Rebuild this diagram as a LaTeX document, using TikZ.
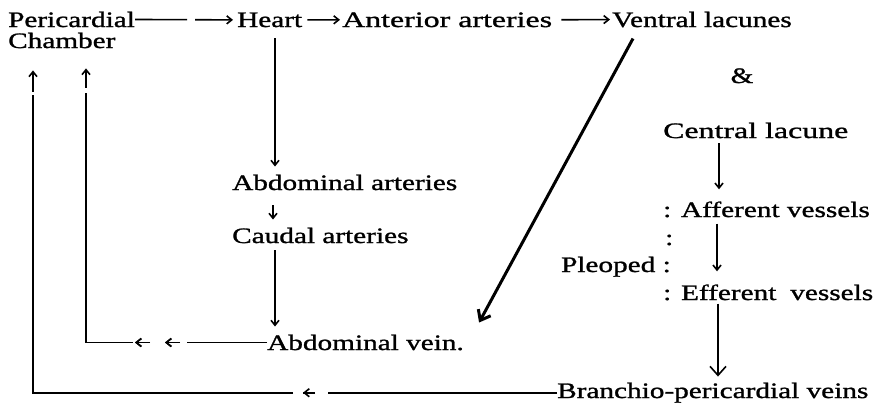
\documentclass[tikz,border=0pt]{standalone}
\usepackage{fontspec}
\setmainfont{Liberation Serif}[FakeStretch=1.33,FakeBold=1.2]
\newfontfamily\widerfont{Liberation Serif}[FakeStretch=1.45,FakeBold=1.2]
\usetikzlibrary{arrows.meta,decorations.markings,calc}
\begin{document}
\begin{tikzpicture}[x=1pt,y=-1pt,
  font=\fontsize{22}{26}\selectfont,
  lbl/.style={inner sep=0pt, anchor=base west},
  ln/.style={line width=1.6pt},
  tip/.style={-{Straight Barb[length=5pt,width=8pt]}},
  ar/.style={ln,tip},
  midtip/.style={postaction={decorate}, decoration={markings, mark=#1}}]
\fill[white] (0,0) rectangle (884,410);
\useasboundingbox (0,0) rectangle (884,410);

% texts
\node[lbl] (peri) at (8,27) {Pericardial};
\node[lbl] (chamber) at (8,48) {Chamber};
\node[lbl] (heart) at (237,27) {Heart};
\node[lbl] (ant) at (342,27) {\widerfont Anterior arteries};
\node[lbl] (ventral) at (612,27) {Ventral lacunes};
\node[inner sep=0pt, anchor=base] (amp) at (742,83) {\&};
\node[lbl] (cl) at (663,138) {\widerfont Central lacune};
\node[lbl] (aart) at (232,190) {Abdominal arteries};
\node[lbl] (cart) at (232,243) {Caudal arteries};
\node[lbl] (aff) at (663,217) {: Afferent vessels};
\node[lbl] (mcol) at (665,245) {:};
\node[inner sep=0pt, anchor=base east] (pleo) at (671,272) {Pleoped :};
\node[lbl] (eff) at (663,300) {: Efferent\hspace{0.3em} vessels};
\node[lbl] (avein) at (267,350) {Abdominal vein.};
\node[lbl] (branch) at (557,398) {Branchio-pericardial veins};

% helper x positions
\coordinate (xL) at (33,0);
\coordinate (xR) at (86,0);
\coordinate (xH) at (275,0);
\coordinate (xA) at (273,0);
\coordinate (xC) at (719,0);
\coordinate (xD) at (717,0);
\coordinate (xE) at (718,0);

% top row
\draw[ar, dash pattern=on 52pt off 8pt on 200pt, shorten >=4pt] (peri.east) -- (heart.west);
\draw[ar, shorten <=5pt, shorten >=2pt] (heart.east) -- (ant.west);
\draw[ar, shorten <=9pt, shorten >=2pt] (ant.east) -- (ventral.west);

% middle column
\draw[ar, shorten <=11pt, shorten >=8pt] (heart.south -| xH) -- (aart.north -| xH);
\draw[ar, shorten <=15pt, shorten >=8pt] (aart.south -| xA) -- (cart.north -| xA);
\draw[ar, shorten <=7pt, shorten >=8pt] (cart.south -| xH) -- (avein.north -| xH);

% diagonal
\draw[line width=3pt, -{Straight Barb[length=9pt,width=14pt]}]
  ($(ventral.south west)+(21,11)$) -- ($(avein.north east)+(15,-12)$);

% right column
\draw[ar, shorten <=5pt, shorten >=12pt] (cl.south -| xC) -- (aff.north -| xC);
\draw[ar, shorten <=6pt, shorten >=13pt] (aff.south -| xD) -- (eff.north -| xD);
\draw[ln, -{Straight Barb[length=9pt,width=16pt]}, shorten <=3pt, shorten >=6pt]
  (eff.south -| xE) -- (branch.north -| xE);

% return paths
\draw[ar, dash pattern=on 80pt off 7pt on 15pt off 15pt on 15pt off 2pt on 297pt off 5pt on 200pt,
  shorten >=20pt,
  midtip={at position 102pt with {\arrow{Straight Barb[length=5pt,width=8pt]}}},
  midtip={at position 132pt with {\arrow{Straight Barb[length=5pt,width=8pt]}}}]
  (avein.west) -- (avein.west -| xR) -- (chamber.south -| xR);
\draw[ar, dash pattern=on 229pt off 13pt on 12pt off 10pt on 558pt off 3pt on 200pt,
  shorten >=22pt,
  midtip={at position 254pt with {\arrow{Straight Barb[length=5pt,width=8pt]}}}]
  (branch.west) -- (branch.west -| xL) -- (chamber.south -| xL);
\end{tikzpicture}
\end{document}
